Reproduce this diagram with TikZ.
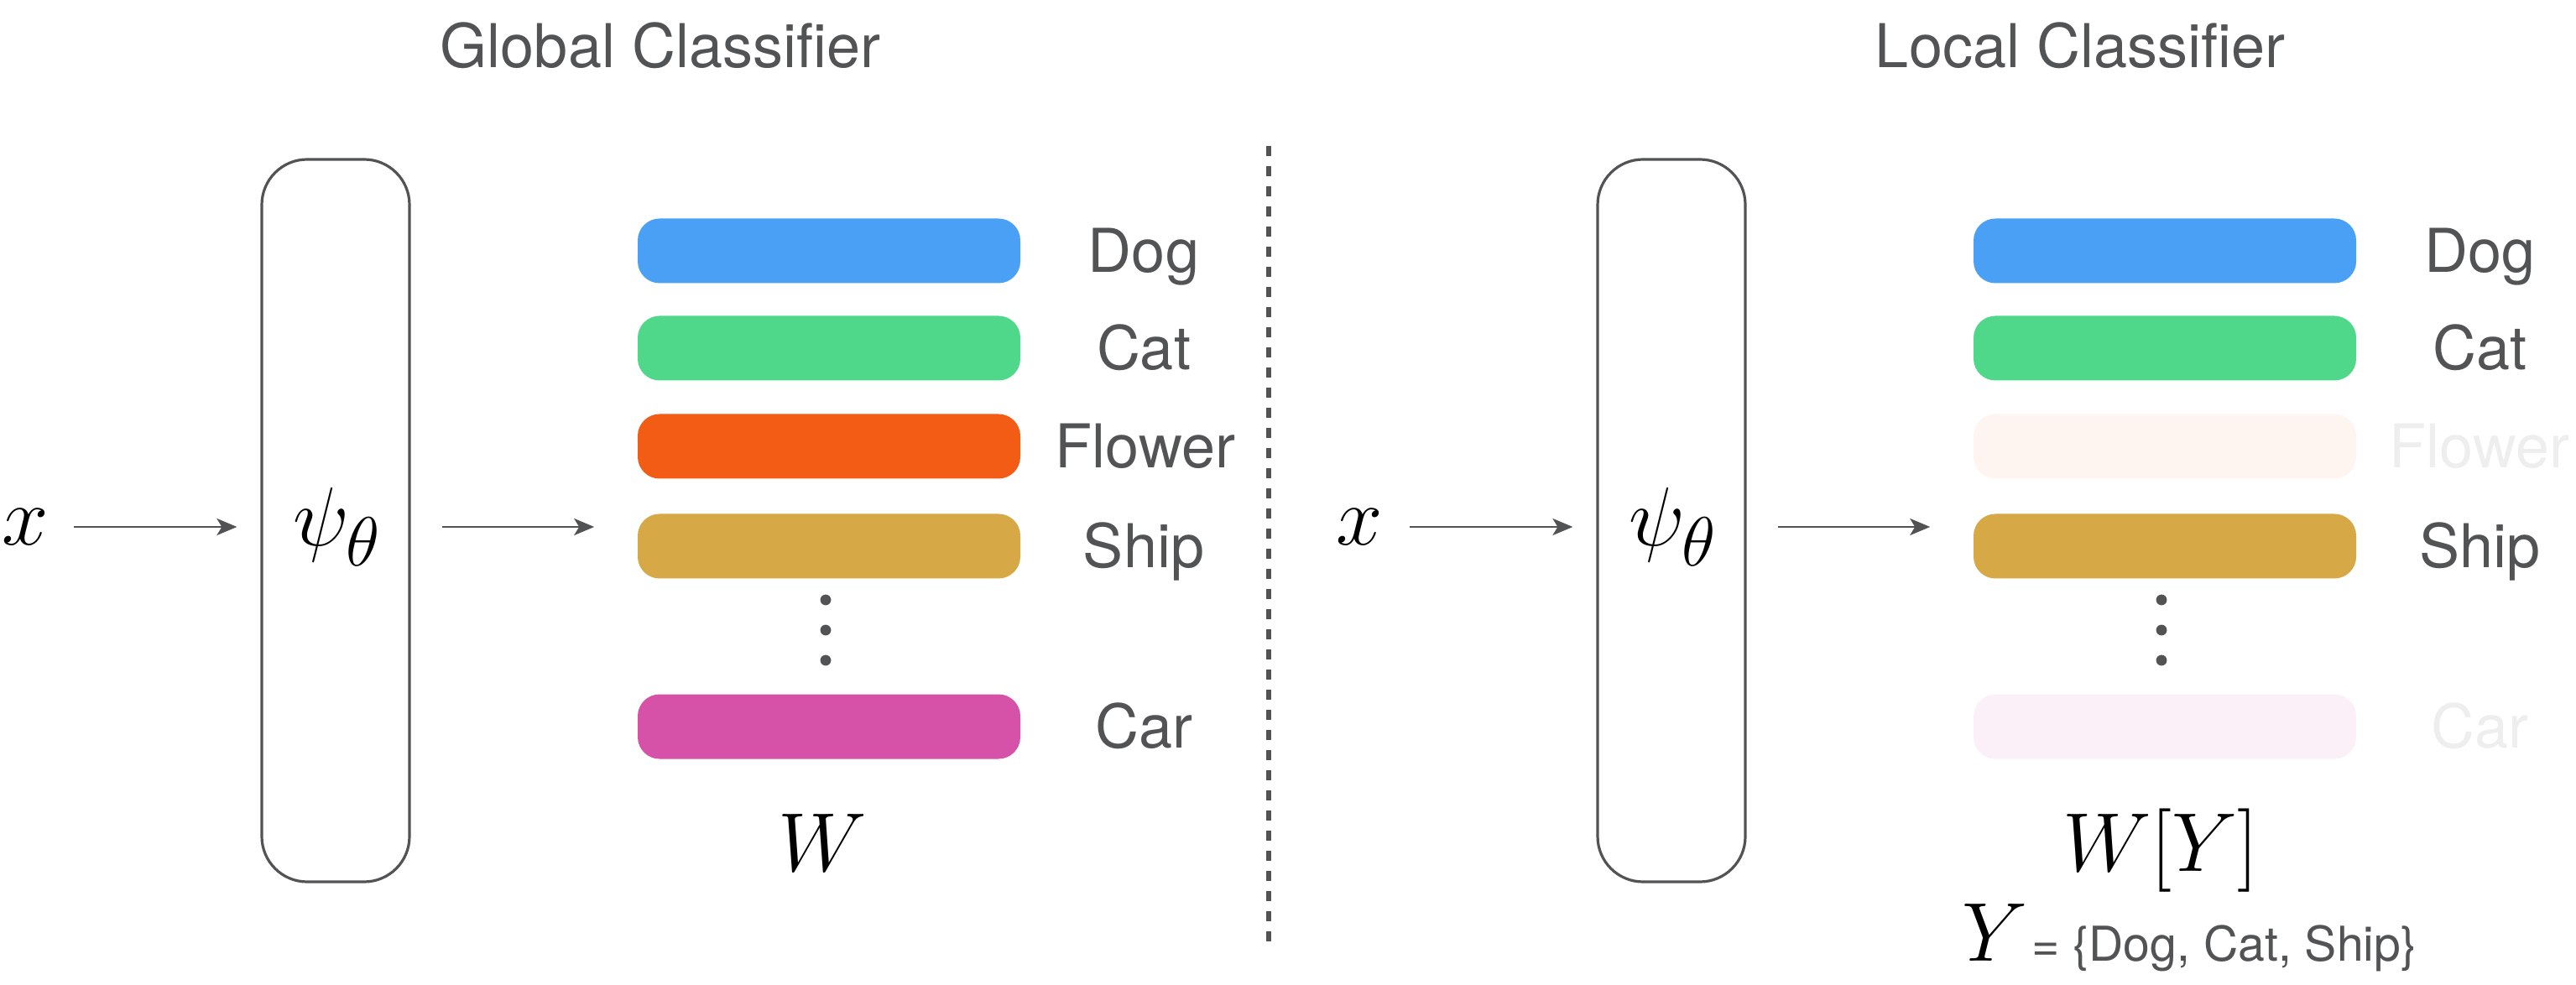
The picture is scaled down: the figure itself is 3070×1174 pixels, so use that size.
\documentclass[tikz,border=0pt]{standalone}
\usepackage{fontspec}
\setmainfont{TeX Gyre Heros}
\usetikzlibrary{arrows.meta}
\definecolor{txt}{HTML}{515355}
\definecolor{dogc}{HTML}{49A0F5}
\definecolor{catc}{HTML}{50D88A}
\definecolor{flowc}{HTML}{F25C14}
\definecolor{shipc}{HTML}{D7A846}
\definecolor{carc}{HTML}{D652A8}
\definecolor{flowf}{HTML}{FEF5F0}
\definecolor{carf}{HTML}{FBF0F7}
\definecolor{fadetxt}{HTML}{EEEEEE}
\tikzset{
  bar/.style={rounded corners=6.5pt, minimum width=114pt, minimum height=19.25pt, inner sep=0pt, draw=none},
  lbl/.style={text=txt, font=\fontsize{18}{20}\selectfont, text height=12.9pt, text depth=0pt, inner sep=0pt},
  ttl/.style={text=txt, font=\fontsize{18}{20}\selectfont, text height=12.9pt, text depth=0pt, inner sep=0pt},
  net/.style={draw=txt, line width=0.8pt, rounded corners=13.5pt, minimum width=44pt, minimum height=215.25pt, inner sep=0pt},
  mth/.style={font=\fontsize{28}{32}\selectfont, inner sep=0pt},
  arr/.style={-{Stealth[length=6pt,width=5pt,inset=1.5pt]}, draw=txt, line width=0.7pt},
  dotc/.style={fill=txt},
}
\begin{document}
\begin{tikzpicture}[x=0.25pt,y=-0.25pt]
\useasboundingbox (0,0) rectangle (3070,1174);
% titles
\node[ttl] (tg) at (787,55) {Global Classifier};
\node[ttl] (tl) at (2479,55) {Local Classifier};
% divider
\coordinate (d1) at (1512,174);
\coordinate (d2) at (1512,1126);
\draw[txt, line width=1.5pt, dash pattern=on 3pt off 3pt] (d1) -- (d2);

% ---------- left ----------
\node[mth, anchor=center] (xl) at (30,628) {$x$};
\node[net] (bl) at (400,620.5) {};
\node[mth] (pl) at (402,628) {$\psi_\theta$};
\node[bar, fill=dogc]  (dogl)  at (988,299) {};
\node[bar, fill=catc]  (catl)  at (988,415) {};
\node[bar, fill=flowc] (flowl) at (988,532) {};
\node[bar, fill=shipc] (shipl) at (988,651) {};
\node[bar, fill=carc]  (carl)  at (988,866) {};
\fill[dotc] (984,715) circle (1.6pt);
\fill[dotc] (984,751) circle (1.6pt);
\fill[dotc] (984,787) circle (1.6pt);
\node[lbl] (ldogl)  at (1363,299) {Dog};
\node[lbl] (lcatl)  at (1363,415) {Cat};
\node[lbl] (lflowl) at (1365,532) {Flower};
\node[lbl] (lshipl) at (1363,651) {Ship};
\node[lbl] (lcarl)  at (1363,866) {Car};
\node[mth, anchor=base] (wl) at (980,1038) {$W$};
\coordinate (a1s) at (88,628);
\coordinate (a1e) at (bl.west |- a1s);
\draw[arr] (a1s) -- ([xshift=-7pt]a1e);
\coordinate (a2s) at (bl.east |- a1s);
\coordinate (a2e) at (dogl.west |- a1s);
\draw[arr] ([xshift=9.25pt]a2s) -- ([xshift=-12.75pt]a2e);

% ---------- right ----------
\node[mth, anchor=center] (xr) at (1620,628) {$x$};
\node[net] (br) at (1992,620.5) {};
\node[mth] (pr) at (1994,628) {$\psi_\theta$};
\node[bar, fill=dogc]  (dogr)  at (2580,299) {};
\node[bar, fill=catc]  (catr)  at (2580,415) {};
\node[bar, fill=flowf] (flowr) at (2580,532) {};
\node[bar, fill=shipc] (shipr) at (2580,651) {};
\node[bar, fill=carf]  (carr)  at (2580,866) {};
\fill[dotc] (2576,715) circle (1.6pt);
\fill[dotc] (2576,751) circle (1.6pt);
\fill[dotc] (2576,787) circle (1.6pt);
\node[lbl] (ldogr)  at (2955,299) {Dog};
\node[lbl] (lcatr)  at (2955,415) {Cat};
\node[lbl, text=fadetxt] (lflowr) at (2955,532) {Flower};
\node[lbl] (lshipr) at (2955,651) {Ship};
\node[lbl, text=fadetxt] (lcarr)  at (2955,866) {Car};
\node[mth, anchor=base] (wr) at (2575,1038) {$W[Y]$};
\node[anchor=base west, inner sep=0pt] (yr) at (2338,1145) {\fontsize{28}{32}\selectfont$Y${\color{txt}\fontsize{14.3}{16}\selectfont\hspace{1pt}= \{Dog, Cat, Ship\}}};
\coordinate (b1s) at (1680,628);
\coordinate (b1e) at (br.west |- b1s);
\draw[arr] (b1s) -- ([xshift=-7pt]b1e);
\coordinate (b2s) at (br.east |- b1s);
\coordinate (b2e) at (dogr.west |- b1s);
\draw[arr] ([xshift=9.25pt]b2s) -- ([xshift=-12.75pt]b2e);
\end{tikzpicture}
\end{document}
